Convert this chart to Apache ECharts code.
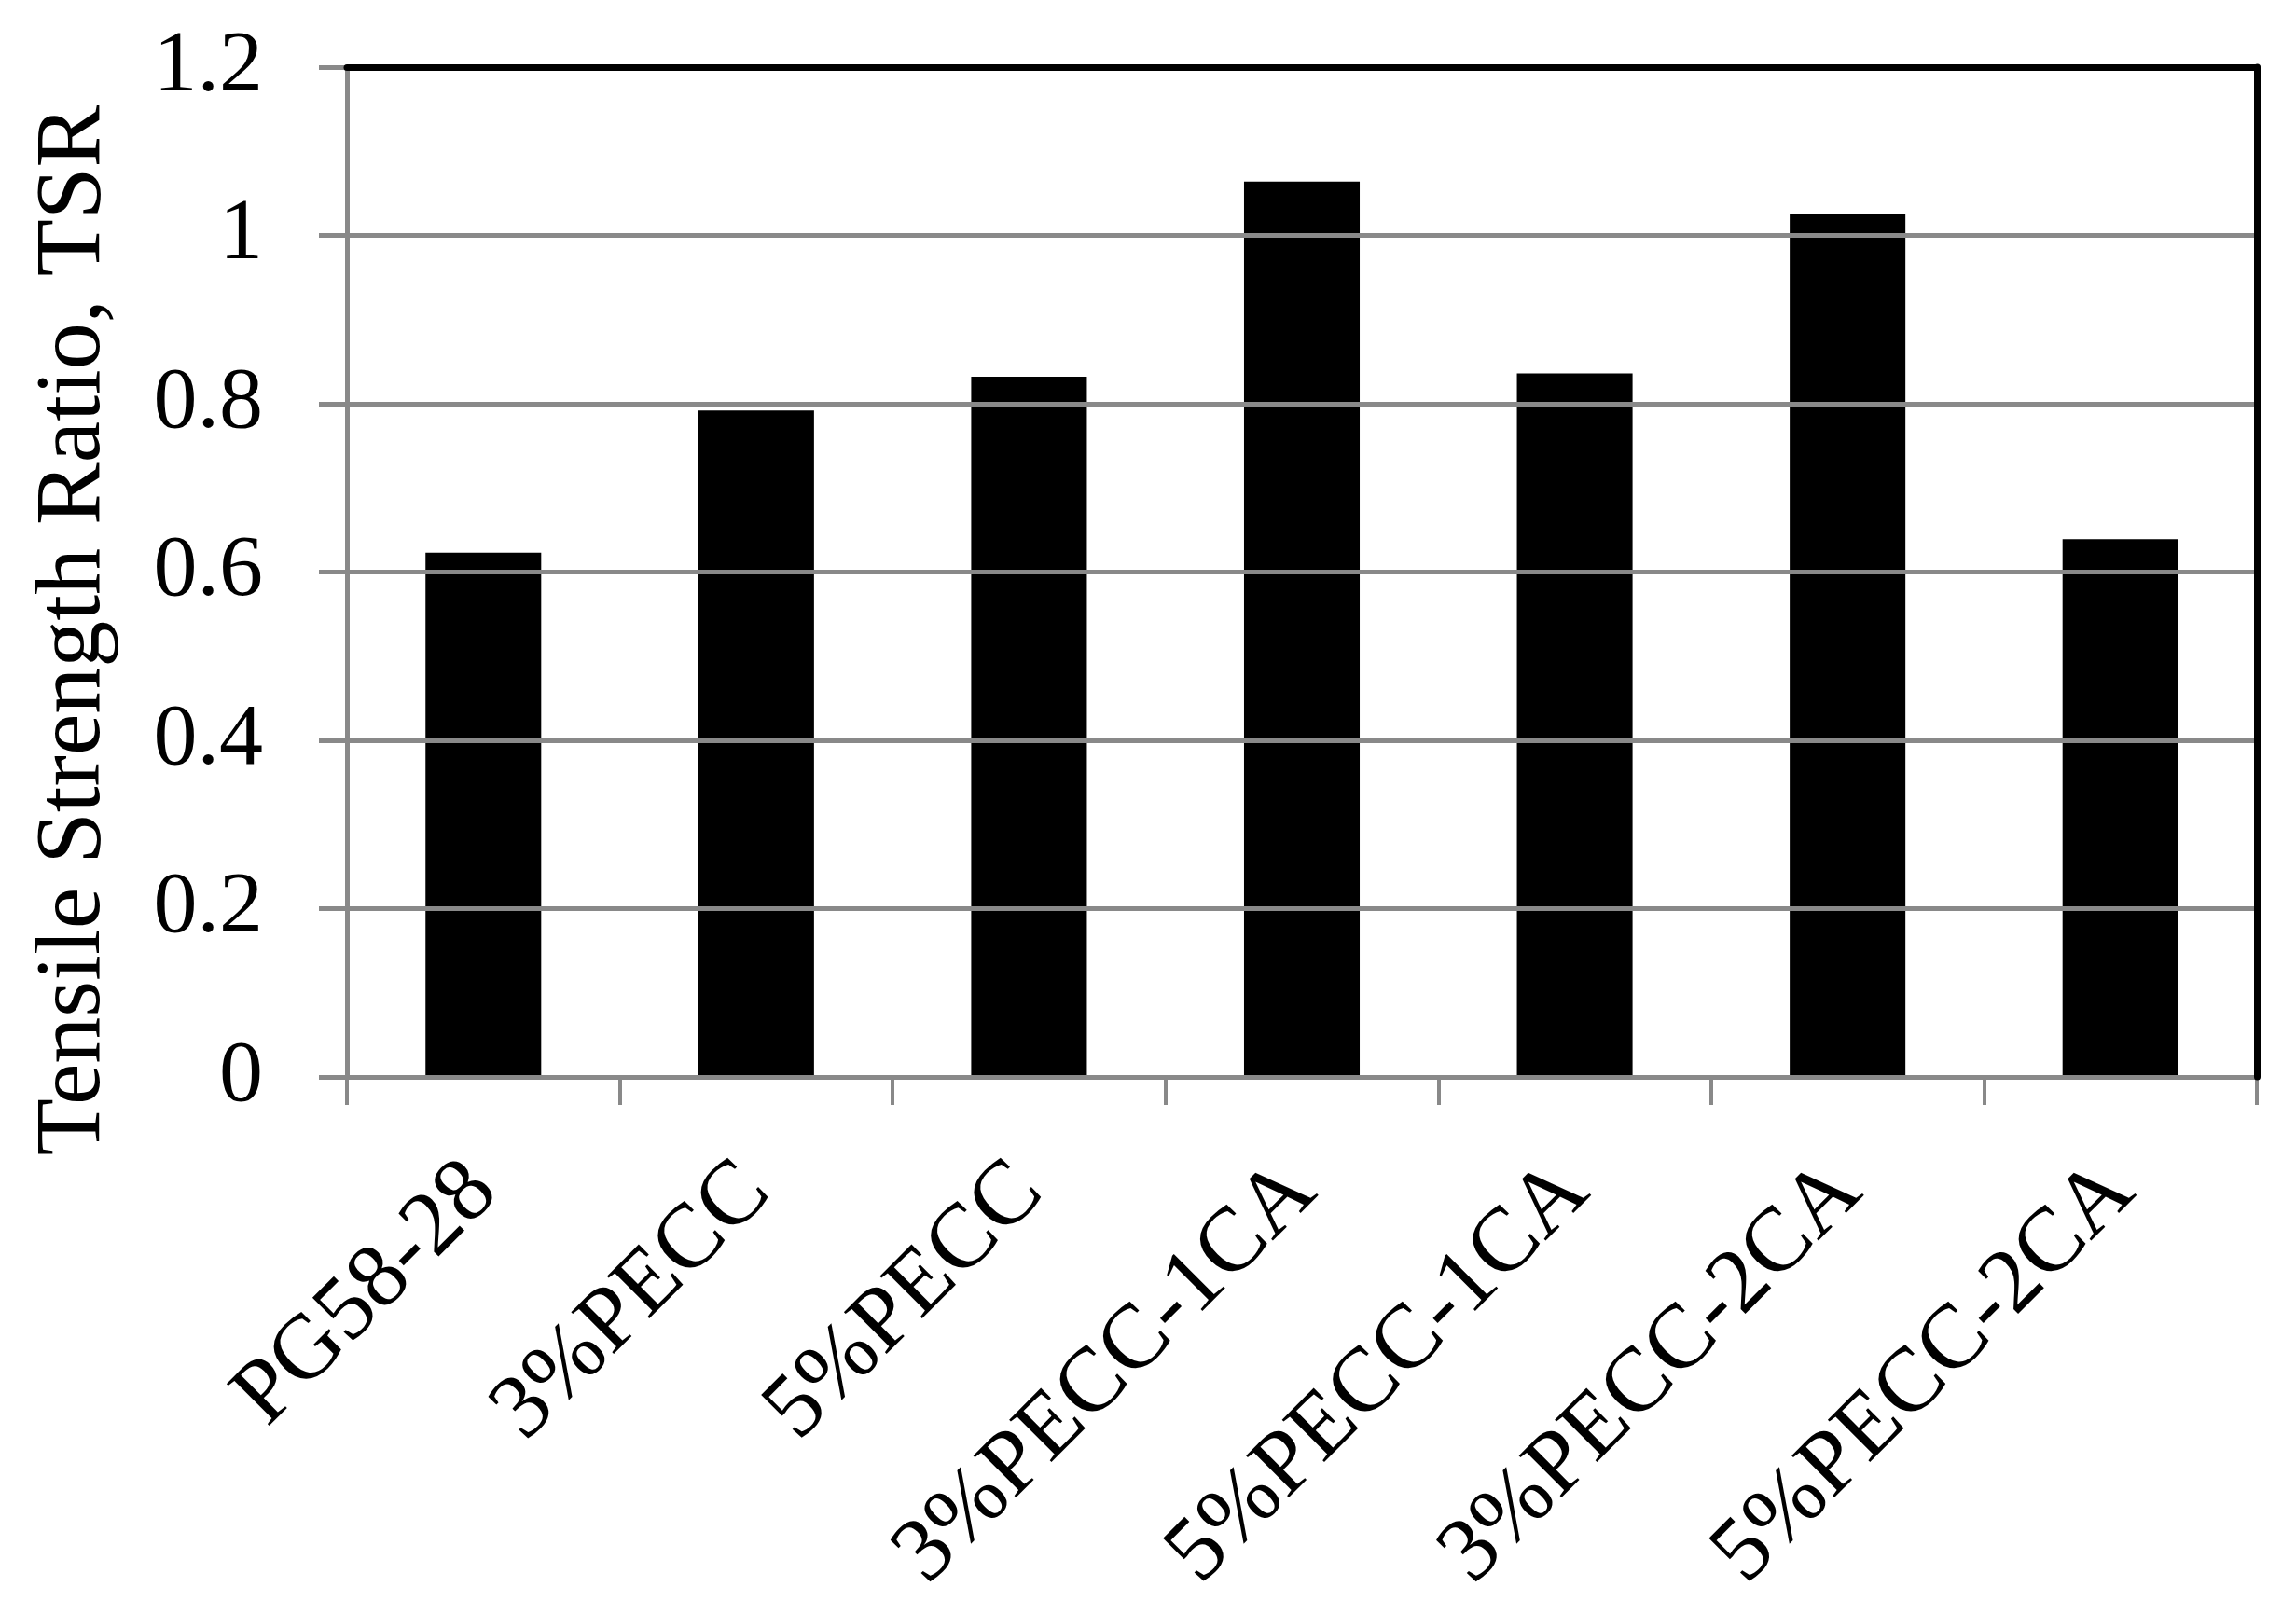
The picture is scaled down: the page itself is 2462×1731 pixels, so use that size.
<!DOCTYPE html>
<html>
<head>
<meta charset="utf-8">
<title>Tensile Strength Ratio</title>
<script src="https://cdn.jsdelivr.net/npm/echarts@6/dist/echarts.min.js"></script>
<style>
  html, body { margin: 0; padding: 0; background: #fff; }
  #chart { width: 2462px; height: 1731px; }
</style>
</head>
<body>
<div id="chart"></div>
<script>
// mixes
const categories = ["PG58-28", "3%PECC", "5%PECC", "3%PECC-1CA", "5%PECC-1CA", "3%PECC-2CA", "5%PECC-2CA"];
// TSR
const tsrValues = [0.623, 0.792, 0.832, 1.064, 0.836, 1.026, 0.639];
const yTicks = [0, 0.2, 0.4, 0.6, 0.8, 1, 1.2];
const yTitle = "Tensile Strength Ratio, TSR";

const font = "'Liberation Serif', 'Times New Roman', serif";
const gray = "#898989";

const chart = echarts.init(document.getElementById("chart"));

const options = {
  animation: false,
  backgroundColor: "#fff",
  grid: {
    left: 372,
    right: 42,
    top: 72,
    bottom: 576,
    containLabel: false,
  },
  xAxis: [
    {
      type: "category",
      data: categories,
      z: 3,
      axisLine: { lineStyle: { color: gray, width: 5 } },
      axisTick: { show: true, length: 30, lineStyle: { color: gray, width: 4 } },
      axisLabel: {
        rotate: 45,
        margin: 108,
        interval: 0,
        color: "#000",
        fontFamily: font,
        fontSize: 98,
      },
    },
    {
      // top frame line
      type: "category",
      data: categories,
      position: "top",
      z: 5,
      axisLine: { onZero: false, lineStyle: { color: "#000", width: 7 } },
      axisTick: { show: false },
      axisLabel: { show: false },
    },
  ],
  yAxis: [
    {
      type: "value",
      min: yTicks[0],
      max: yTicks[yTicks.length - 1],
      interval: 0.2,
      z: 3,
      axisLine: { show: true, lineStyle: { color: gray, width: 5 } },
      axisTick: { show: true, length: 30, lineStyle: { color: gray, width: 5 } },
      axisLabel: {
        margin: 90,
        color: "#000",
        fontFamily: font,
        fontSize: 94,
        formatter: (v) => String(+v.toFixed(1)),
      },
      splitLine: { show: true, lineStyle: { color: gray, width: 5 } },
    },
    {
      // right frame line
      type: "value",
      position: "right",
      min: yTicks[0],
      max: yTicks[yTicks.length - 1],
      interval: 0.2,
      z: 5,
      axisLine: { show: true, onZero: false, lineStyle: { color: "#000", width: 7 } },
      axisTick: { show: false },
      axisLabel: { show: false },
      splitLine: { show: false },
    },
  ],
  graphic: [
    {
      type: "text",
      x: 80,
      y: 676,
      rotation: Math.PI / 2,
      style: {
        text: yTitle,
        fill: "#000",
        font: "100px " + font,
        align: "center",
        verticalAlign: "middle",
      },
    },
  ],
  series: [
    {
      type: "bar",
      data: tsrValues,
      barWidth: "42.4%",
      itemStyle: { color: "#000" },
    },
  ],
};

chart.setOption(options);
</script>
</body>
</html>
